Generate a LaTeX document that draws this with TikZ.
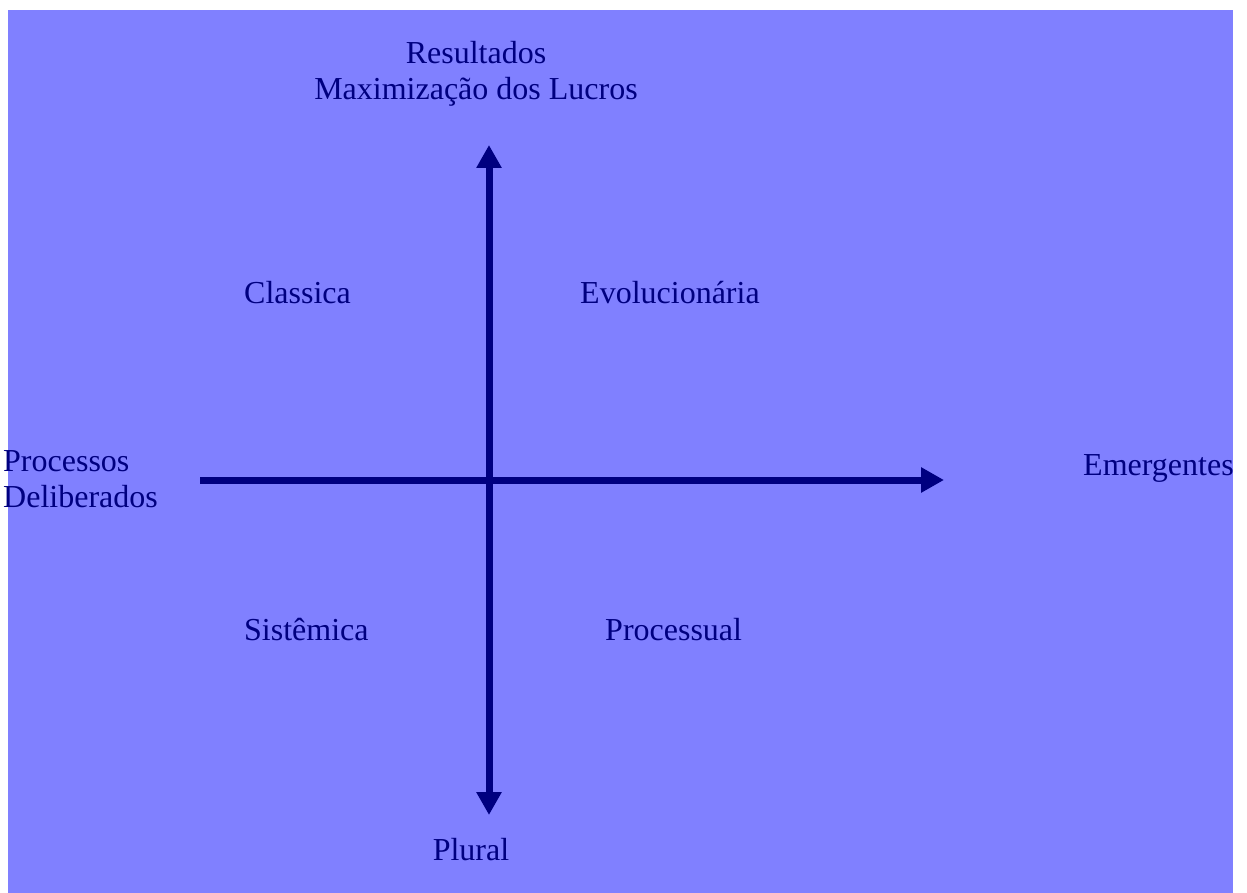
\documentclass[tikz,border=0pt]{standalone}
\usepackage{fontspec}
\setmainfont{Liberation Serif}
\usetikzlibrary{arrows.meta}
\definecolor{bgblue}{HTML}{8080FF}
\definecolor{navy}{HTML}{000080}
\tikzset{
    axis/.style={navy, line width=7pt},
    label/.style={navy, inner sep=0pt, font=\fontsize{32}{36}\selectfont}
}
\begin{document}
\begin{tikzpicture}[x=1pt, y=-1pt]
    % Draw background
    \useasboundingbox (0,0) rectangle (1247,893);
    \fill[bgblue] (8,10) rectangle (1233,893);

    % Axis end points
    \coordinate (top) at (489,145);
    \coordinate (bottom) at (489,815);
    \coordinate (left) at (200,480);
    \coordinate (right) at (944,480);

    % Draw axes
    \draw[axis, {Triangle[length=23pt, width=24pt]}-{Triangle[length=23pt, width=24pt]}] (bottom) -- (top);
    \draw[axis, -{Triangle[length=23pt, width=24pt]}] (left) -- (right);

    % Draw axis labels
    \node[label, anchor=base, align=center] (results) at (476,100) {Resultados\\Maximização dos Lucros};
    \node[label, anchor=base] (plural) at (471,860) {Plural};
    \node[label, anchor=base west, align=left] (deliberate) at (3,507) {Processos\\Deliberados};
    \node[label, anchor=base west] (emergent) at (1083,475) {Emergentes};

    % Draw quadrant labels
    \node[label, anchor=base west] (classic) at (244,303) {Classica};
    \node[label, anchor=base west] (evolution) at (580,303) {Evolucionária};
    \node[label, anchor=base west] (system) at (244,640) {Sistêmica};
    \node[label, anchor=base west] (process) at (605,640) {Processual};
\end{tikzpicture}
\end{document}
